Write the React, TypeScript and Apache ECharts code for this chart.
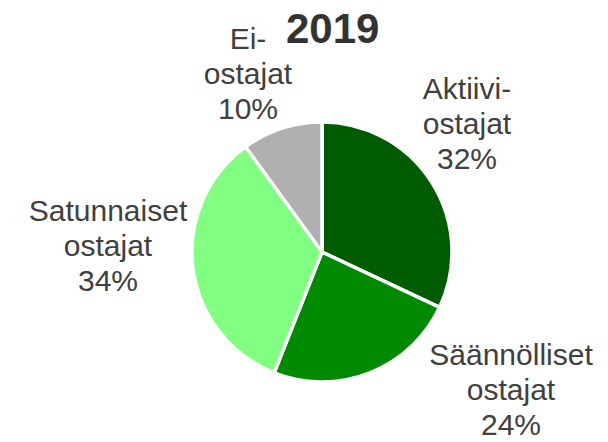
import React, { useEffect, useRef } from "react";
import * as echarts from "echarts";

const TITLE = "2019";
const CATEGORIES = ["Aktiivi-ostajat", "Säännölliset ostajat", "Satunnaiset ostajat", "Ei-ostajat"];
const VALUES = [32, 24, 34, 10];
const COLORS = ["#005c00", "#008a00", "#80ff80", "#b0b0b0"];

// label block centre offsets relative to pie centre (layout only)
const LABEL_OFFSETS: [number, number][] = [
  [145, -129],
  [189, 137],
  [-214, -7],
  [-74, -179],
];

const CX = 322;
const CY = 252;
const R = 130;

function splitName(name: string): string {
  if (name.includes("-")) {
    const i = name.indexOf("-");
    return name.slice(0, i + 1) + "\n" + name.slice(i + 1);
  }
  return name.replace(" ", "\n");
}

export default function App() {
  const ref = useRef<HTMLDivElement>(null);
  useEffect(() => {
    document.body.style.margin = "0";
    const chart = echarts.init(ref.current!, undefined, { renderer: "svg" });
    chart.setOption({
      animation: false,
      backgroundColor: "#ffffff",
      title: {
        text: TITLE,
        left: 281,
        top: 2,
        padding: 5,
        textStyle: {
          fontFamily: "Liberation Sans",
          fontWeight: "bold",
          fontSize: 42,
          color: "#333333",
        },
      },
      series: [
        {
          type: "pie",
          center: [CX, CY],
          radius: R,
          startAngle: 90,
          clockwise: true,
          data: CATEGORIES.map((name, i) => ({
            name,
            value: VALUES[i],
            itemStyle: { color: COLORS[i] },
          })),
          itemStyle: { borderColor: "#ffffff", borderWidth: 3.5 },
          labelLine: { show: false },
          label: {
            show: true,
            position: "outside",
            formatter: (p: any) => `${splitName(p.name)}\n${p.value}%`,
            fontFamily: "Liberation Sans",
            fontSize: 30,
            lineHeight: 35,
            color: "#404040",
            align: "center",
            overflow: "none",
            edgeDistance: 0,
            bleedMargin: 0,
          },
          labelLayout: (params: any) => {
            const o = LABEL_OFFSETS[params.dataIndex];
            return {
              x: CX + o[0],
              y: CY + o[1],
              align: "center",
              verticalAlign: "middle",
            };
          },
          emphasis: { disabled: true },
        },
      ],
    });
    return () => chart.dispose();
  }, []);
  return <div ref={ref} style={{ width: 608, height: 442 }} />;
}
